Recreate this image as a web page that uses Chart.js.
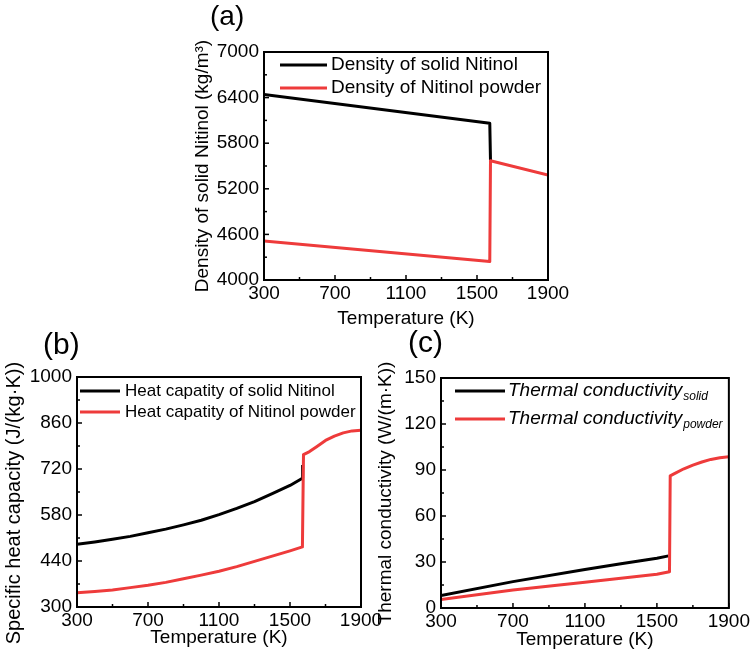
<!DOCTYPE html>
<html>
<head>
<meta charset="utf-8">
<script src="https://cdn.jsdelivr.net/npm/chart.js@4.4.1/dist/chart.umd.min.js"></script>
<style>
  html, body { margin: 0; padding: 0; background: #fff; }
  body { width: 752px; height: 657px; position: relative; overflow: hidden; font-family: 'Liberation Sans', Arial, sans-serif; }
  canvas { position: absolute; }
  .tag { position: absolute; line-height: 1; color: #000; }
</style>
</head>
<body>
<canvas id="chart-a" width="420" height="340" style="left:170px; top:0; width:420px; height:340px;"></canvas>
<canvas id="chart-b" width="400" height="327" style="left:0; top:330px; width:400px; height:327px;"></canvas>
<canvas id="chart-c" width="382" height="327" style="left:370px; top:330px; width:382px; height:327px;"></canvas>
<div class="tag" style="left:210px; top:2px; font-size:28px;">(a)</div>
<div class="tag" style="left:43px; top:329px; font-size:30px;">(b)</div>
<div class="tag" style="left:408px; top:327px; font-size:30px;">(c)</div>
<script>
// Temperature axis shared by all three panels (K)
const tempTicks = [300, 700, 1100, 1500, 1900];

// (a) density, kg/m3
const densityTicks = [4000, 4600, 5200, 5800, 6400, 7000];
const tempSolidA = [300, 1572, 1576];
const densitySolid = [6442, 6062, 5575];
const tempPowderA = [300, 1572, 1576, 1900];
const densityPowder = [4512, 4242, 5570, 5380];

// (b) specific heat capacity, J/(kg K)
const heatTicks = [300, 440, 580, 720, 860, 1000];
const tempSolidB = [300, 400, 500, 600, 700, 800, 900, 1000, 1100, 1200, 1300, 1400, 1500, 1570, 1571];
const heatSolid = [491, 498, 506, 515, 526, 537, 550, 564, 581, 600, 621, 645, 670, 692, 732];
const tempPowderB = [300, 400, 500, 600, 700, 800, 900, 1000, 1100, 1200, 1300, 1400, 1500, 1570,
    1576, 1610, 1650, 1700, 1750, 1800, 1850, 1900];
const heatPowder = [343, 347, 352, 359, 366, 375, 386, 397, 409, 423, 439, 455, 471, 483,
    764, 773, 788, 807, 820, 830, 836, 838];

// (c) thermal conductivity, W/(m K)
const condTicks = [0, 30, 60, 90, 120, 150];
const tempSolidC = [300, 700, 1100, 1300, 1500, 1565];
const condSolid = [8.1, 17.2, 25.1, 28.8, 32.5, 34];
const tempPowderC = [300, 700, 1100, 1500, 1570, 1574, 1600, 1650, 1700, 1750, 1800, 1850, 1900];
const condPowder = [5.6, 11.8, 16.8, 22, 23.6, 86.2, 87.8, 90.8, 93.2, 95.2, 96.9, 98, 98.6];

const FONT = "'Liberation Sans', Arial, sans-serif";
const RED = '#ee3b3b';

const pts = (xs, ys) => xs.map((x, i) => ({ x, y: ys[i] }));

// box around the plot area plus inward major/minor ticks on the left and bottom
const frameTicks = {
    id: 'frameTicks',
    afterDraw(chart) {
        const { ctx, chartArea: a, scales } = chart;
        ctx.save();
        ctx.strokeStyle = '#000';
        ctx.lineWidth = 1.5;
        const mark = (scale, value, len) => {
            const p = scale.getPixelForValue(value);
            ctx.beginPath();
            if (scale.isHorizontal()) {
                ctx.moveTo(p, a.bottom);
                ctx.lineTo(p, a.bottom - len);
            } else {
                ctx.moveTo(a.left, p);
                ctx.lineTo(a.left + len, p);
            }
            ctx.stroke();
        };
        [scales.x, scales.y].forEach(scale => {
            const vals = scale.ticks.map(t => t.value);
            vals.forEach((v, i) => {
                mark(scale, v, 5);
                if (i < vals.length - 1) mark(scale, (v + vals[i + 1]) / 2, 3);
            });
        });
        ctx.lineWidth = 2;
        ctx.strokeRect(a.left, a.top, a.right - a.left, a.bottom - a.top);
        ctx.restore();
    }
};

// legend drawn inside the plot area, with optional subscript
const innerLegend = {
    id: 'innerLegend',
    afterDraw(chart, args, o) {
        const { ctx, chartArea: a } = chart;
        ctx.save();
        chart.data.datasets.forEach((ds, i) => {
            const y = a.top + o.top + i * o.spacing;
            const x0 = a.left + o.left;
            ctx.strokeStyle = ds.borderColor;
            ctx.lineWidth = 3;
            ctx.beginPath();
            ctx.moveTo(x0, y);
            ctx.lineTo(x0 + o.length, y);
            ctx.stroke();
            ctx.fillStyle = '#000';
            ctx.textBaseline = 'middle';
            ctx.font = o.font;
            const tx = x0 + o.length + o.gap;
            ctx.fillText(ds.label, tx, y);
            if (ds.sub) {
                const w = ctx.measureText(ds.label).width;
                ctx.font = o.subFont;
                ctx.fillText(ds.sub, tx + w + 1, y + o.subShift);
            }
        });
        ctx.restore();
    }
};

const makePanel = (id, p) => new Chart(document.getElementById(id), {
    type: 'line',
    data: {
        datasets: [
            { label: p.names[0], sub: p.subs ? p.subs[0] : null, data: p.solid, borderColor: '#000', order: 1 },
            { label: p.names[1], sub: p.subs ? p.subs[1] : null, data: p.powder, borderColor: RED, order: 0 },
        ].map(d => Object.assign(d, { borderWidth: 3, pointRadius: 0, fill: false, tension: 0, borderJoinStyle: 'round' })),
    },
    options: {
        responsive: false,
        animation: false,
        events: [],
        layout: { padding: p.padding },
        plugins: {
            legend: { display: false },
            tooltip: { enabled: false },
            innerLegend: p.legend,
        },
        scales: {
            x: {
                type: 'linear',
                min: 300,
                max: 1900,
                afterBuildTicks: s => { s.ticks = tempTicks.map(v => ({ value: v })); },
                afterFit: s => { s.height = p.xHeight; },
                grid: { display: false, drawTicks: false },
                border: { display: false },
                ticks: { callback: v => String(v), color: '#000', padding: 2, autoSkip: false, maxRotation: 0, font: { family: FONT, size: 19 } },
                title: { display: true, text: 'Temperature (K)', color: '#000', font: { family: FONT, size: 19 }, padding: { top: 0, bottom: p.xTitlePad } },
            },
            y: {
                type: 'linear',
                min: p.yTicks[0],
                max: p.yTicks[p.yTicks.length - 1],
                afterBuildTicks: s => { s.ticks = p.yTicks.map(v => ({ value: v })); },
                afterFit: s => { s.width = p.yWidth; },
                grid: { display: false, drawTicks: false },
                border: { display: false },
                ticks: { callback: v => String(v), color: '#000', padding: 5, autoSkip: false, font: { family: FONT, size: 19 } },
                title: { display: true, text: p.yTitle, color: '#000', font: { family: FONT, size: p.yTitleSize }, padding: { top: p.yTitlePad, bottom: 0 } },
            },
        },
    },
    plugins: [frameTicks, innerLegend],
});

makePanel('chart-a', {
    names: ['Density of solid Nitinol', 'Density of Nitinol powder'],
    solid: pts(tempSolidA, densitySolid),
    powder: pts(tempPowderA, densityPowder),
    yTicks: densityTicks,
    yTitle: 'Density of solid Nitinol (kg/m\u00B3)',
    yTitleSize: 19,
    yTitlePad: 21,
    yWidth: 94,
    xHeight: 60,
    xTitlePad: 10,
    padding: { left: 0, top: 52, right: 42, bottom: 0 },
    legend: { left: 16, top: 13, spacing: 23, length: 47, gap: 4, font: `19px ${FONT}` },
});

makePanel('chart-b', {
    names: ['Heat capatity of solid Nitinol', 'Heat capatity of Nitinol powder'],
    solid: pts(tempSolidB, heatSolid),
    powder: pts(tempPowderB, heatPowder),
    yTicks: heatTicks,
    yTitle: 'Specific heat capacity (J/(kg\u00B7K))    ',
    yTitleSize: 20,
    yTitlePad: 2,
    yWidth: 77,
    xHeight: 50,
    xTitlePad: 8,
    padding: { left: 0, top: 47, right: 39, bottom: 0 },
    legend: { left: 3, top: 14, spacing: 21, length: 40, gap: 5, font: `17px ${FONT}` },
});

makePanel('chart-c', {
    names: ['Thermal conductivity', 'Thermal conductivity'],
    subs: ['solid', 'powder'],
    solid: pts(tempSolidC, condSolid),
    powder: pts(tempPowderC, condPowder),
    yTicks: condTicks,
    yTitle: 'Thermal conductivity (W/(m\u00B7K))',
    yTitleSize: 19,
    yTitlePad: 4.6,
    yWidth: 71,
    xHeight: 49,
    xTitlePad: 6,
    padding: { left: 0, top: 48, right: 23, bottom: 0 },
    legend: { left: 14, top: 13, spacing: 28, length: 50, gap: 3, font: `italic 19px ${FONT}`, subFont: `italic 12px ${FONT}`, subShift: 6 },
});
</script>
</body>
</html>
